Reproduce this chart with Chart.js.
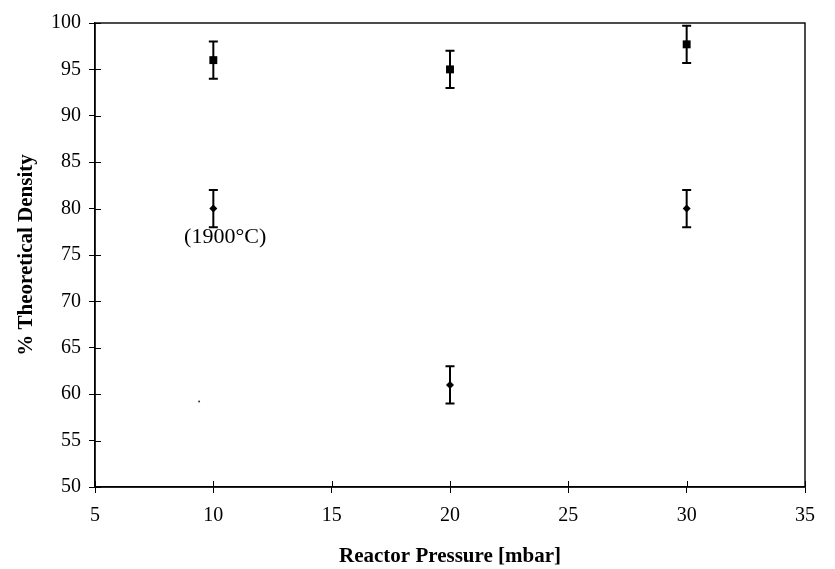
<!DOCTYPE html>
<html><head><meta charset="utf-8">
<script src="https://cdn.jsdelivr.net/npm/chart.js@4/dist/chart.umd.min.js"></script>
<style>html,body{margin:0;padding:0;background:#fff;}#wrap{width:835px;height:569px;}</style>
</head><body><div id="wrap"><canvas id="c" width="835" height="569"></canvas></div>
<script>
const pressures = [10, 20, 30];
const densityUpper = [96, 95, 97.7];
const densityUpperErr = [2, 2, 2];
const densityLower = [80, 61, 80];
const densityLowerErr = [2, 2, 2];
const strayPoint = [{x: 9.4, y: 59.2}];
const annotationText = "(1900°C)";
const annotationPos = {x: 10.5, y: 76.9};
const xTicks = [5, 10, 15, 20, 25, 30, 35];
const yTicks = [50, 55, 60, 65, 70, 75, 80, 85, 90, 95, 100];

const FONT = "'Liberation Serif', 'Times New Roman', serif";

const errPlugin = {
  id: 'errbars',
  afterDatasetsDraw(chart) {
    const ctx = chart.ctx, xs = chart.scales.x, ys = chart.scales.y, a = chart.chartArea;
    ctx.save();
    ctx.strokeStyle = '#000';
    // box
    ctx.lineWidth = 1.4;
    ctx.strokeRect(a.left, a.top, a.right - a.left, a.bottom - a.top);
    // inward ticks
    ctx.lineWidth = 1;
    ctx.beginPath();
    xTicks.forEach(v => { const px = Math.round(xs.getPixelForValue(v)) + 0.5; ctx.moveTo(px, a.bottom); ctx.lineTo(px, a.bottom - 6); });
    yTicks.forEach(v => { const py = Math.round(ys.getPixelForValue(v)) + 0.5; ctx.moveTo(a.left, py); ctx.lineTo(a.left + 6, py); });
    ctx.stroke();
    // error bars
    ctx.lineWidth = 2;
    const sets = [[densityUpper, densityUpperErr], [densityLower, densityLowerErr]];
    sets.forEach(([vals, errs]) => {
      vals.forEach((v, i) => {
        const px = xs.getPixelForValue(pressures[i]);
        const pt = ys.getPixelForValue(v + errs[i]);
        const pb = ys.getPixelForValue(v - errs[i]);
        ctx.beginPath();
        ctx.moveTo(px, pt); ctx.lineTo(px, pb);
        ctx.moveTo(px - 4.5, pt); ctx.lineTo(px + 4.5, pt);
        ctx.moveTo(px - 4.5, pb); ctx.lineTo(px + 4.5, pb);
        ctx.stroke();
      });
    });
    // annotation
    ctx.fillStyle = '#000';
    ctx.font = "22px " + FONT;
    ctx.textAlign = 'center';
    ctx.textBaseline = 'middle';
    ctx.fillText(annotationText, xs.getPixelForValue(annotationPos.x), ys.getPixelForValue(annotationPos.y));
    ctx.restore();
  }
};

new Chart(document.getElementById('c'), {
  type: 'scatter',
  data: {
    datasets: [
      { data: pressures.map((x, i) => ({x, y: densityUpper[i]})), pointStyle: 'rect', pointRadius: 5.6, backgroundColor: '#000', borderColor: '#000', borderWidth: 0 },
      { data: pressures.map((x, i) => ({x, y: densityLower[i]})), pointStyle: 'rectRot', pointRadius: 4, backgroundColor: '#000', borderColor: '#000', borderWidth: 0 },
      { data: strayPoint, pointStyle: 'circle', pointRadius: 1, backgroundColor: '#333', borderWidth: 0 }
    ]
  },
  options: {
    responsive: false,
    animation: false,
    devicePixelRatio: 1,
    layout: { padding: { top: 23, right: 30, left: 0, bottom: 0 } },
    plugins: { legend: { display: false }, tooltip: { enabled: false } },
    scales: {
      x: {
        type: 'linear', min: 5, max: 35,
        afterBuildTicks: s => { s.ticks = xTicks.map(v => ({value: v})); },
        afterFit: s => { s.height = 82; },
        ticks: { font: { family: FONT, size: 20 }, color: '#000', padding: 11, maxRotation: 0 },
        grid: { drawOnChartArea: false, drawTicks: true, tickLength: 6, color: '#000', lineWidth: 1 },
        border: { color: '#000', width: 1.4 },
        title: { display: true, text: 'Reactor Pressure [mbar]', font: { family: FONT, size: 21, weight: 'bold' }, color: '#000', padding: { top: 4, bottom: 0 } }
      },
      y: {
        type: 'linear', min: 50, max: 100,
        afterBuildTicks: s => { s.ticks = yTicks.map(v => ({value: v})); },
        afterFit: s => { s.width = 95; },
        ticks: { font: { family: FONT, size: 20 }, color: '#000', padding: 8 },
        grid: { drawOnChartArea: false, drawTicks: true, tickLength: 6, color: '#000', lineWidth: 1 },
        border: { color: '#000', width: 1.4 },
        title: { display: true, text: '% Theoretical Density', font: { family: FONT, size: 21, weight: 'bold' }, color: '#000', padding: { top: 14, bottom: 0 } }
      }
    }
  },
  plugins: [errPlugin]
});
</script></body></html>
